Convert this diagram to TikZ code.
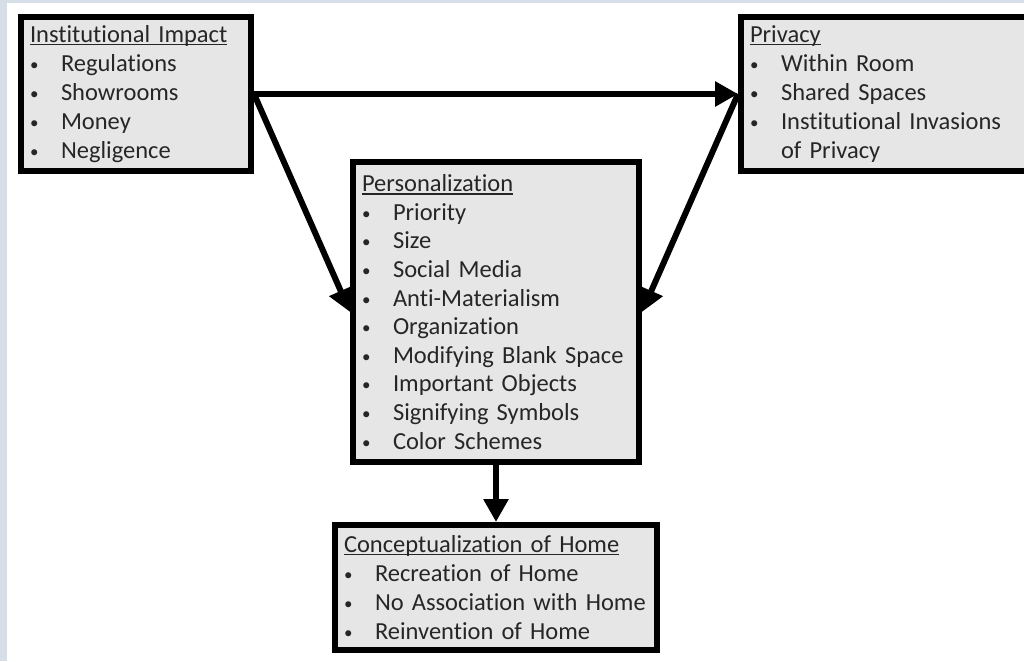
\documentclass[tikz,border=0pt]{standalone}
\usepackage{fontspec}
\setmainfont{Carlito}[Ligatures=NoCommon]
\usetikzlibrary{arrows.meta, positioning}
\definecolor{boxgray}{RGB}{230,230,230}
\definecolor{edgeblue}{RGB}{214,222,232}
\definecolor{inkgray}{RGB}{38,38,38}
\newcommand{\boxtitle}[1]{\setbox0\hbox{#1}\rlap{\rule[-3pt]{\wd0}{1.6pt}}\box0} % underlined heading
\newcommand{\bulitem}[1]{\makebox[31pt][l]{\raisebox{1pt}{\fontsize{17}{17}\selectfont\textbullet}}#1} % one bullet line
\tikzset{
  panel/.style={draw=black, line width=6pt, fill=boxgray, text=inkgray, align=left,
    inner xsep=9pt, inner ysep=0pt, font=\fontsize{24.5}{29}\selectfont},
  conn/.style={line width=6pt, -{Triangle[length=23pt,width=24pt]}}
}

\begin{document}
\begin{tikzpicture}[x=1pt, y=-1pt]
\useasboundingbox (0,0) rectangle (1024,661);
\clip (0,0) rectangle (1024,661);

% page background with the light strips at top and left
\fill[white] (0,0) rectangle (1024,661);
\fill[edgeblue] (0,0) rectangle (7,661);
\fill[edgeblue] (0,0) rectangle (1024,3);

% Institutional Impact (top left)
\node[panel, text width=212pt, minimum height=154pt] (inst) at (136,94)
  {\boxtitle{Institutional Impact}\\ \bulitem{Regulations}\\ \bulitem{Showrooms}\\
   \bulitem{Money}\\ \bulitem{Negligence}};

% Privacy (top right, runs off the page)
\node[panel, text width=271pt, minimum height=154pt] (priv) at (885.5,94)
  {\boxtitle{Privacy}\\ \bulitem{Within Room}\\ \bulitem{Shared Spaces}\\
   \bulitem{Institutional Invasions}\\ \hspace*{31pt}of Privacy};

% Personalization (middle)
\node[panel, text width=268pt, minimum height=300pt, font=\fontsize{24.5}{28.6}\selectfont] (pers) at (496,312)
  {\boxtitle{Personalization}\\ \bulitem{Priority}\\ \bulitem{Size}\\ \bulitem{Social Media}\\
   \bulitem{Anti-Materialism}\\ \bulitem{Organization}\\ \bulitem{Modifying Blank Space}\\
   \bulitem{Important Objects}\\ \bulitem{Signifying Symbols}\\ \bulitem{Color Schemes}};

% Conceptualization of Home (bottom), set down below Personalization
\node[panel, text width=304pt, minimum height=125pt, below=57pt of pers] (conc)
  {\boxtitle{Conceptualization of Home}\\ \bulitem{Recreation of Home}\\
   \bulitem{No Association with Home}\\ \bulitem{Reinvention of Home}};

% Arrows between the boxes
\draw[conn] (inst.east) -- (priv.west);
\draw[conn] (inst.east) -- (pers.west);
\draw[conn] (priv.west) -- (pers.east);
\draw[conn] (pers.south) -- (conc.north);

\end{tikzpicture}
\end{document}
